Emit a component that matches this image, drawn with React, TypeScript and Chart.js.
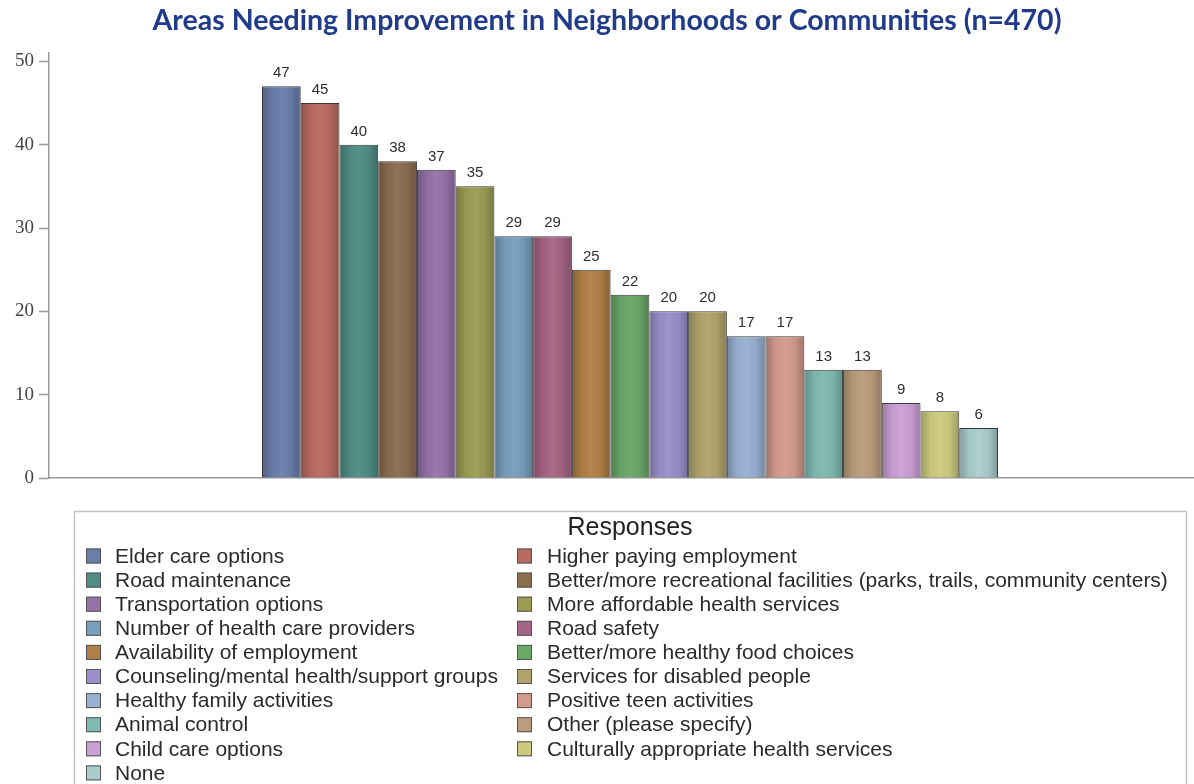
import React, { useEffect, useRef } from "react";
import { Chart, registerables } from "chart.js";

Chart.register(...registerables);

const TITLE = "Areas Needing Improvement in Neighborhoods or Communities (n=470)";
const LEGEND_TITLE = "Responses";
const CATEGORIES = [""];
const RESPONSES = [
  "Elder care options",
  "Higher paying employment",
  "Road maintenance",
  "Better/more recreational facilities (parks, trails, community centers)",
  "Transportation options",
  "More affordable health services",
  "Number of health care providers",
  "Road safety",
  "Availability of employment",
  "Better/more healthy food choices",
  "Counseling/mental health/support groups",
  "Services for disabled people",
  "Healthy family activities",
  "Positive teen activities",
  "Animal control",
  "Other (please specify)",
  "Child care options",
  "Culturally appropriate health services",
  "None",
];
const PERCENTS = [47, 45, 40, 38, 37, 35, 29, 29, 25, 22, 20, 20, 17, 17, 13, 13, 9, 8, 6];
const COLORS = [
  "#6a7eab",
  "#b96a60",
  "#4f8d85",
  "#8b6d4f",
  "#9572a9",
  "#9c9c55",
  "#789fbd",
  "#a66584",
  "#b07f46",
  "#6aa867",
  "#9a8fcb",
  "#b0a46a",
  "#98b0d2",
  "#d39a8e",
  "#7fbab2",
  "#bb9c7c",
  "#cc9fd6",
  "#cccb7d",
  "#a9cdcd",
];
const Y_TICKS = [0, 10, 20, 30, 40, 50];

const X_AXIS_RIGHT = 1211;

const titlePlugin = {
  id: "customTitle",
  afterDraw(chart: any) {
    const ctx = chart.ctx;
    ctx.save();
    ctx.fillStyle = "#1f3b8a";
    ctx.textAlign = "center";
    ctx.textBaseline = "alphabetic";
    ctx.font = "bold 28.5px Lato";
    ctx.fillText(TITLE, 607, 30);
    ctx.restore();
  },
};

const widenXPlugin = {
  id: "widenX",
  afterLayout(chart: any) {
    const x = chart.scales.x;
    x.right = X_AXIS_RIGHT;
    x.width = x.right - x.left;
    x.configure();
  },
};

const shadePlugin = {
  id: "barShade",
  afterDatasetsDraw(chart: any) {
    const ctx = chart.ctx;
    ctx.save();
    chart.data.datasets.forEach((_ds: any, i: number) => {
      const meta = chart.getDatasetMeta(i);
      meta.data.forEach((el: any) => {
        const { x, y, base, width } = el.getProps(["x", "y", "base", "width"], true);
        const left = x - width / 2 + 1;
        const w = width - 2;
        const g = ctx.createLinearGradient(left, 0, left + w, 0);
        g.addColorStop(0, "rgba(0,0,0,0.22)");
        g.addColorStop(0.25, "rgba(0,0,0,0.03)");
        g.addColorStop(0.5, "rgba(255,255,255,0.05)");
        g.addColorStop(0.75, "rgba(0,0,0,0.03)");
        g.addColorStop(1, "rgba(0,0,0,0.22)");
        ctx.fillStyle = g;
        ctx.fillRect(left, y + 1, w, base - y - 1);
      });
    });
    ctx.restore();
  },
};

const valueLabelPlugin = {
  id: "valueLabels",
  afterDatasetsDraw(chart: any) {
    const ctx = chart.ctx;
    ctx.save();
    ctx.font = "15px 'Liberation Sans'";
    ctx.fillStyle = "#2e2e2e";
    ctx.textAlign = "center";
    ctx.textBaseline = "alphabetic";
    chart.data.datasets.forEach((ds: any, i: number) => {
      const meta = chart.getDatasetMeta(i);
      meta.data.forEach((el: any, j: number) => {
        ctx.fillText(String(ds.data[j]), el.x, el.y - 9);
      });
    });
    ctx.restore();
  },
};

const legendPlugin = {
  id: "boxLegend",
  afterDraw(chart: any) {
    const ctx = chart.ctx;
    ctx.save();
    ctx.strokeStyle = "#c4c4c4";
    ctx.lineWidth = 1.5;
    ctx.strokeRect(74.5, 511.5, 1112, 300);
    ctx.fillStyle = "#222222";
    ctx.textAlign = "center";
    ctx.textBaseline = "middle";
    ctx.font = "25px 'Liberation Sans'";
    ctx.fillText(LEGEND_TITLE, 630, 528);
    ctx.textAlign = "left";
    ctx.font = "21px 'Liberation Sans'";
    chart.data.datasets.forEach((ds: any, i: number) => {
      const row = Math.floor(i / 2);
      const col = i % 2;
      const cy = 556 + row * 24.1;
      const sx = col === 0 ? 86 : 517;
      const tx = col === 0 ? 115 : 547;
      ctx.fillStyle = ds.backgroundColor;
      ctx.fillRect(sx, cy - 7.5, 15, 15);
      ctx.strokeStyle = "#555555";
      ctx.lineWidth = 1;
      ctx.strokeRect(sx + 0.5, cy - 7, 14, 14);
      ctx.fillStyle = "#2a2a2a";
      ctx.fillText(ds.label, tx, cy + 1);
    });
    ctx.restore();
  },
};

export default function App() {
  const canvasRef = useRef<HTMLCanvasElement | null>(null);

  useEffect(() => {
    document.body.style.margin = "0";
    const canvas = canvasRef.current;
    if (!canvas) return;
    const chart = new Chart(canvas, {
      type: "bar",
      data: {
        labels: CATEGORIES,
        datasets: RESPONSES.map((label, i) => ({
          label,
          data: [PERCENTS[i]],
          backgroundColor: COLORS[i],
          borderColor: "#383838",
          borderWidth: 1,
          categoryPercentage: 736 / 1162,
          barPercentage: 1,
        })),
      },
      options: {
        responsive: false,
        animation: false,
        layout: { padding: { top: 53, left: 0, right: 0, bottom: 306 } },
        plugins: {
          legend: { display: false },
          title: { display: false },
          tooltip: { enabled: false },
        },
        scales: {
          x: {
            type: "category",
            grid: { display: false },
            border: { display: true, color: "#9a9a9a", width: 1.5 },
            ticks: { display: false },
            afterFit: (scale: any) => {
              scale.height = 0;
            },
          },
          y: {
            type: "linear",
            min: 0,
            max: 51,
            afterBuildTicks: (scale: any) => {
              scale.ticks = Y_TICKS.map((v) => ({ value: v }));
            },
            afterFit: (scale: any) => {
              scale.width = 49;
            },
            grid: {
              drawOnChartArea: false,
              drawTicks: true,
              tickLength: 10,
              tickColor: "#9a9a9a",
              tickWidth: 1.5,
            },
            border: { display: true, color: "#9a9a9a", width: 1.5 },
            ticks: {
              font: { family: "'Liberation Serif'", size: 19 },
              color: "#444444",
              padding: 5,
            },
          },
        },
      },
      plugins: [widenXPlugin, shadePlugin, valueLabelPlugin, titlePlugin, legendPlugin],
    });
    return () => chart.destroy();
  }, []);

  return (
    <div style={{ width: 1194, height: 784, background: "#ffffff" }}>
      <canvas ref={canvasRef} width={1194} height={784} style={{ display: "block" }} />
    </div>
  );
}
